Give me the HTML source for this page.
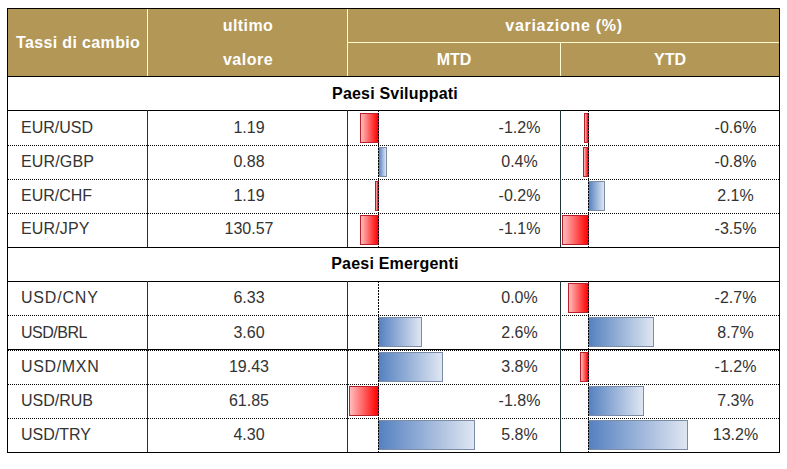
<!DOCTYPE html>
<html><head><meta charset="utf-8">
<style>
html,body{margin:0;padding:0;background:#fff;}
body{width:787px;height:469px;position:relative;overflow:hidden;font-family:"Liberation Sans",sans-serif;}
div{position:absolute;box-sizing:border-box;}
.t{white-space:nowrap;line-height:16px;height:16px;}
.w{color:#fff;font-weight:bold;font-size:16px;}
.g{color:#000;font-weight:bold;font-size:16px;}
.d{color:#333;font-size:16px;}
.hl{height:1px;background:#000;}
.dot{height:1px;background-image:linear-gradient(to right,#000 50%,transparent 50%);background-size:2px 1px;background-position:1px 0;}
.vl{width:1px;background:#1f3434;}
.ax{width:1px;background-image:linear-gradient(to bottom,#000 2px,transparent 2px);background-size:1px 3px;}
.rb{background:linear-gradient(to right,#ffbcbc,#ff0000);border:1px solid #b8202c;}
.bb{background:linear-gradient(to right,#5581c0,#dfe6f2);border:1px solid #7d8ca6;}
</style></head><body>

<div style="left:7px;top:8px;width:773px;height:68px;background:#b29757;"></div>
<div style="left:147px;top:9px;width:1px;height:67px;background:#fffad0;"></div>
<div style="left:347px;top:9px;width:1px;height:67px;background:#fffad0;"></div>
<div style="left:560px;top:42px;width:1px;height:34px;background:#fffad0;"></div>
<div style="left:348px;top:42px;width:431px;height:1px;background:#fffad0;"></div>
<div class="t w" style="left:16px;top:35px;letter-spacing:0.36px;">Tassi di cambio</div>
<div class="t w" style="left:98px;width:300px;text-align:center;top:18px;letter-spacing:0.4px;">ultimo</div>
<div class="t w" style="left:98px;width:300px;text-align:center;top:52px;letter-spacing:0.5px;">valore</div>
<div class="t w" style="left:414px;width:300px;text-align:center;top:18px;letter-spacing:0.7px;">variazione (%)</div>
<div class="t w" style="left:304px;width:300px;text-align:center;top:52px;">MTD</div>
<div class="t w" style="left:520px;width:300px;text-align:center;top:52px;">YTD</div>
<div class="hl" style="left:7px;top:110px;width:772px;"></div>
<div class="dot" style="left:7px;top:145px;width:772px;"></div>
<div class="dot" style="left:7px;top:179px;width:772px;"></div>
<div class="dot" style="left:7px;top:213px;width:772px;"></div>
<div class="hl" style="left:7px;top:247px;width:772px;"></div>
<div class="hl" style="left:7px;top:281px;width:772px;"></div>
<div class="dot" style="left:7px;top:315px;width:772px;"></div>
<div class="hl" style="left:7px;top:349px;width:772px;"></div>
<div class="dot" style="left:7px;top:350px;width:772px;"></div>
<div class="dot" style="left:7px;top:384px;width:772px;"></div>
<div class="dot" style="left:7px;top:418px;width:772px;"></div>
<div style="left:7px;top:76px;width:772px;height:1px;background:#000;"></div>
<div class="t g" style="left:245px;width:300px;text-align:center;top:86px;letter-spacing:0.2px;">Paesi Sviluppati</div>
<div class="vl" style="left:147px;top:110px;height:35px;"></div>
<div class="vl" style="left:347px;top:110px;height:35px;"></div>
<div class="vl" style="left:560px;top:110px;height:35px;"></div>
<div class="rb" style="left:360px;top:113px;width:19px;height:30px;"></div>
<div class="rb" style="left:584px;top:113px;width:5px;height:30px;"></div>
<div class="ax" style="left:378px;top:110px;height:35px;"></div>
<div class="ax" style="left:588px;top:110px;height:35px;"></div>
<div class="t d" style="left:21px;top:120px;letter-spacing:0px;">EUR/USD</div>
<div class="t d" style="left:99px;width:300px;text-align:center;top:120px;">1.19</div>
<div class="t d" style="left:369.5px;width:300px;text-align:center;top:120px;">-1.2%</div>
<div class="t d" style="left:585.5px;width:300px;text-align:center;top:120px;">-0.6%</div>
<div class="vl" style="left:147px;top:145px;height:34px;"></div>
<div class="vl" style="left:347px;top:145px;height:34px;"></div>
<div class="vl" style="left:560px;top:145px;height:34px;"></div>
<div class="bb" style="left:378px;top:147px;width:9px;height:30px;"></div>
<div class="rb" style="left:583px;top:147px;width:6px;height:30px;"></div>
<div class="ax" style="left:378px;top:145px;height:34px;"></div>
<div class="ax" style="left:588px;top:145px;height:34px;"></div>
<div class="t d" style="left:21px;top:154px;letter-spacing:0.15px;">EUR/GBP</div>
<div class="t d" style="left:99px;width:300px;text-align:center;top:154px;">0.88</div>
<div class="t d" style="left:369.5px;width:300px;text-align:center;top:154px;">0.4%</div>
<div class="t d" style="left:585.5px;width:300px;text-align:center;top:154px;">-0.8%</div>
<div class="vl" style="left:147px;top:179px;height:34px;"></div>
<div class="vl" style="left:347px;top:179px;height:34px;"></div>
<div class="vl" style="left:560px;top:179px;height:34px;"></div>
<div class="rb" style="left:375px;top:181px;width:4px;height:30px;"></div>
<div class="bb" style="left:588px;top:181px;width:17px;height:30px;"></div>
<div class="ax" style="left:378px;top:179px;height:34px;"></div>
<div class="ax" style="left:588px;top:179px;height:34px;"></div>
<div class="t d" style="left:21px;top:188px;letter-spacing:0px;">EUR/CHF</div>
<div class="t d" style="left:99px;width:300px;text-align:center;top:188px;">1.19</div>
<div class="t d" style="left:369.5px;width:300px;text-align:center;top:188px;">-0.2%</div>
<div class="t d" style="left:585.5px;width:300px;text-align:center;top:188px;">2.1%</div>
<div class="vl" style="left:147px;top:213px;height:34px;"></div>
<div class="vl" style="left:347px;top:213px;height:34px;"></div>
<div class="vl" style="left:560px;top:213px;height:34px;"></div>
<div class="rb" style="left:360px;top:215px;width:19px;height:30px;"></div>
<div class="rb" style="left:562px;top:215px;width:27px;height:30px;"></div>
<div class="ax" style="left:378px;top:213px;height:34px;"></div>
<div class="ax" style="left:588px;top:213px;height:34px;"></div>
<div class="t d" style="left:21px;top:221px;letter-spacing:0.15px;">EUR/JPY</div>
<div class="t d" style="left:99px;width:300px;text-align:center;top:221px;">130.57</div>
<div class="t d" style="left:369.5px;width:300px;text-align:center;top:221px;">-1.1%</div>
<div class="t d" style="left:585.5px;width:300px;text-align:center;top:221px;">-3.5%</div>
<div class="t g" style="left:245px;width:300px;text-align:center;top:256px;letter-spacing:0.2px;">Paesi Emergenti</div>
<div class="vl" style="left:147px;top:281px;height:34px;"></div>
<div class="vl" style="left:347px;top:281px;height:34px;"></div>
<div class="vl" style="left:560px;top:281px;height:34px;"></div>
<div class="rb" style="left:568px;top:283px;width:21px;height:30px;"></div>
<div class="ax" style="left:378px;top:281px;height:34px;"></div>
<div class="ax" style="left:588px;top:281px;height:34px;"></div>
<div class="t d" style="left:21px;top:290px;letter-spacing:0.8px;">USD/CNY</div>
<div class="t d" style="left:99px;width:300px;text-align:center;top:290px;">6.33</div>
<div class="t d" style="left:369.5px;width:300px;text-align:center;top:290px;">0.0%</div>
<div class="t d" style="left:585.5px;width:300px;text-align:center;top:290px;">-2.7%</div>
<div class="vl" style="left:147px;top:315px;height:35px;"></div>
<div class="vl" style="left:347px;top:315px;height:35px;"></div>
<div class="vl" style="left:560px;top:315px;height:35px;"></div>
<div class="bb" style="left:378px;top:317px;width:44px;height:30px;"></div>
<div class="bb" style="left:588px;top:317px;width:66px;height:30px;"></div>
<div class="ax" style="left:378px;top:315px;height:35px;"></div>
<div class="ax" style="left:588px;top:315px;height:35px;"></div>
<div class="t d" style="left:21px;top:325px;letter-spacing:-0.5px;">USD/BRL</div>
<div class="t d" style="left:99px;width:300px;text-align:center;top:325px;">3.60</div>
<div class="t d" style="left:369.5px;width:300px;text-align:center;top:325px;">2.6%</div>
<div class="t d" style="left:585.5px;width:300px;text-align:center;top:325px;">8.7%</div>
<div class="vl" style="left:147px;top:350px;height:34px;"></div>
<div class="vl" style="left:347px;top:350px;height:34px;"></div>
<div class="vl" style="left:560px;top:350px;height:34px;"></div>
<div class="bb" style="left:378px;top:352px;width:65px;height:30px;"></div>
<div class="rb" style="left:580px;top:352px;width:9px;height:30px;"></div>
<div class="ax" style="left:378px;top:350px;height:34px;"></div>
<div class="ax" style="left:588px;top:350px;height:34px;"></div>
<div class="t d" style="left:21px;top:359px;letter-spacing:0.65px;">USD/MXN</div>
<div class="t d" style="left:99px;width:300px;text-align:center;top:359px;">19.43</div>
<div class="t d" style="left:369.5px;width:300px;text-align:center;top:359px;">3.8%</div>
<div class="t d" style="left:585.5px;width:300px;text-align:center;top:359px;">-1.2%</div>
<div class="vl" style="left:147px;top:384px;height:34px;"></div>
<div class="vl" style="left:347px;top:384px;height:34px;"></div>
<div class="vl" style="left:560px;top:384px;height:34px;"></div>
<div class="rb" style="left:349px;top:386px;width:30px;height:30px;"></div>
<div class="bb" style="left:588px;top:386px;width:56px;height:30px;"></div>
<div class="ax" style="left:378px;top:384px;height:34px;"></div>
<div class="ax" style="left:588px;top:384px;height:34px;"></div>
<div class="t d" style="left:21px;top:393px;letter-spacing:0px;">USD/RUB</div>
<div class="t d" style="left:99px;width:300px;text-align:center;top:393px;">61.85</div>
<div class="t d" style="left:369.5px;width:300px;text-align:center;top:393px;">-1.8%</div>
<div class="t d" style="left:585.5px;width:300px;text-align:center;top:393px;">7.3%</div>
<div class="vl" style="left:147px;top:418px;height:34px;"></div>
<div class="vl" style="left:347px;top:418px;height:34px;"></div>
<div class="vl" style="left:560px;top:418px;height:34px;"></div>
<div class="bb" style="left:378px;top:420px;width:97px;height:30px;"></div>
<div class="bb" style="left:588px;top:420px;width:100px;height:30px;"></div>
<div class="ax" style="left:378px;top:418px;height:34px;"></div>
<div class="ax" style="left:588px;top:418px;height:34px;"></div>
<div class="t d" style="left:21px;top:427px;letter-spacing:0px;">USD/TRY</div>
<div class="t d" style="left:99px;width:300px;text-align:center;top:427px;">4.30</div>
<div class="t d" style="left:369.5px;width:300px;text-align:center;top:427px;">5.8%</div>
<div class="t d" style="left:585.5px;width:300px;text-align:center;top:427px;">13.2%</div>
<div style="left:7px;top:8px;width:773px;height:445px;border:1px solid #000;"></div>
</body></html>
